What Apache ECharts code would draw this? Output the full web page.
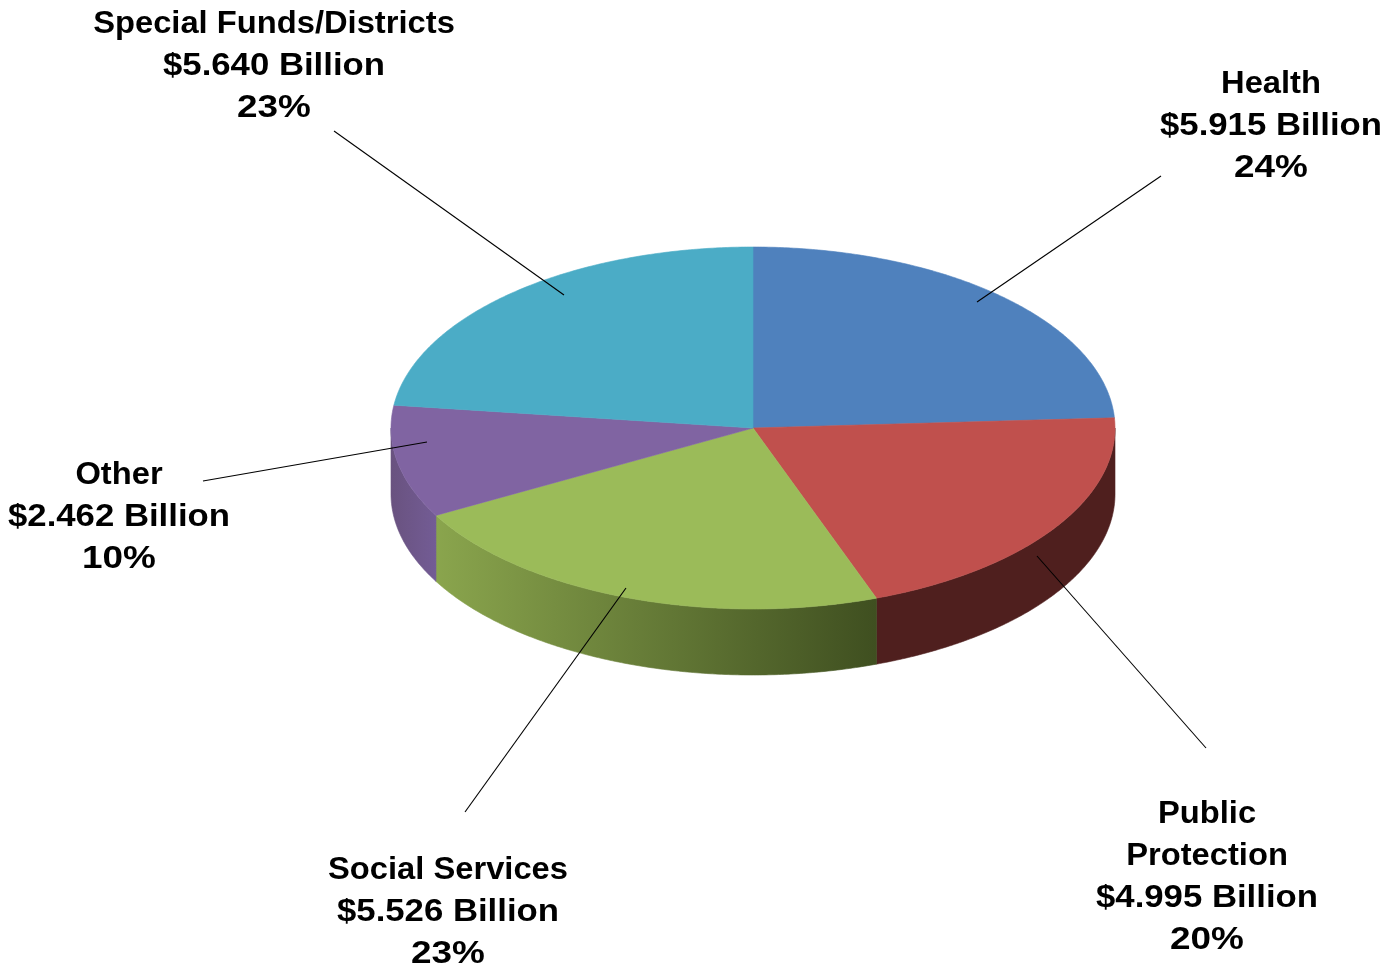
<!DOCTYPE html>
<html>
<head>
<meta charset="utf-8">
<style>html,body{margin:0;padding:0;background:#fff}#c{width:1400px;height:969px}</style>
<script src="https://cdn.jsdelivr.net/npm/echarts@6/dist/echarts.min.js"></script>
</head>
<body>
<div id="c"></div>
<script>
// Data (clockwise from 12 o'clock)
const categories = ['Health', 'Public\nProtection', 'Social Services', 'Other', 'Special Funds/Districts'];
const billions = [5.915, 4.995, 5.526, 2.462, 5.640];
const percents = [24, 20, 23, 10, 23];

// Styles
const topColors = ['#4f81bd', '#c0504d', '#9bbb59', '#8064a2', '#4bacc6'];
const wallStops = [
  ['#3a5f8c', '#3a5f8c'],
  ['#4f1f1e', '#4f1f1e'],
  ['#8aa54d', '#3f4f20'],
  ['#69527f', '#735c95'],
  ['#377f93', '#377f93']
];

// Layout
const pie = { cx: 753, cy: 428, rx: 362, ry: 181, depth: 66 };
const labelAt = [[1271, 125], [1207, 876], [448, 911], [119, 516], [274, 65]];
const lineGap = 42;
const widen = { name: 1.055, value: 1.12, percent: 1.19 };
const leaders = [
  [[1161, 176], [977, 302]],
  [[1206, 748], [1037, 556]],
  [[465, 812], [626, 588]],
  [[203, 481], [427, 442]],
  [[334, 131], [564, 295]]
];

const total = billions.reduce((a, b) => a + b, 0);
const rim = deg => {
  const t = deg * Math.PI / 180;
  return [pie.cx + pie.rx * Math.sin(t), pie.cy - pie.ry * Math.cos(t)];
};
const arc = (from, to) => {
  const pts = [];
  const n = Math.max(2, Math.ceil(Math.abs(to - from) * 2));
  for (let i = 0; i <= n; i++) pts.push(rim(from + (to - from) * i / n));
  return pts;
};

function renderSlice(params, api) {
  const i = params.dataIndex;
  let before = 0;
  for (let k = 0; k < i; k++) before += billions[k];
  const a0 = before / total * 360;
  const a1 = (before + api.value(0)) / total * 360;
  const children = [];

  // visible outer wall lies between 90 and 270 degrees
  const w0 = Math.max(a0, 90), w1 = Math.min(a1, 270);
  if (w1 > w0) {
    const upper = arc(w0, w1);
    const lower = upper.slice().reverse().map(p => [p[0], p[1] + pie.depth]);
    const grad = () => new echarts.graphic.LinearGradient(0, 0, 1, 0, [
      { offset: 0, color: wallStops[i][0] },
      { offset: 1, color: wallStops[i][1] }
    ]);
    children.push({
      type: 'polygon',
      shape: { points: upper.concat(lower) },
      style: { fill: grad(), stroke: grad(), lineWidth: 0.6 }
    });
  }
  // top face
  children.push({
    type: 'polygon',
    shape: { points: [[pie.cx, pie.cy]].concat(arc(a0, a1)) },
    style: { fill: topColors[i], stroke: topColors[i], lineWidth: 0.6 },
    z2: 2
  });
  // leader line
  children.push({
    type: 'line',
    shape: { x1: leaders[i][0][0], y1: leaders[i][0][1], x2: leaders[i][1][0], y2: leaders[i][1][1] },
    style: { stroke: '#000', lineWidth: 1.1, fill: null },
    z2: 5
  });
  // label lines
  const rows = categories[i].split('\n').map(t => [t, widen.name]);
  rows.push(['$' + api.value(0).toFixed(3) + ' Billion', widen.value]);
  rows.push([percents[i] + '%', widen.percent]);
  rows.forEach((r, k) => {
    children.push({
      type: 'text',
      x: labelAt[i][0],
      y: labelAt[i][1] + 1.5 + (k - (rows.length - 1) / 2) * lineGap,
      scaleX: r[1],
      style: {
        text: r[0],
        fill: '#000',
        font: 'bold 31px "Liberation Sans", Arial, sans-serif',
        align: 'center',
        verticalAlign: 'middle'
      },
      z2: 6
    });
  });
  return { type: 'group', children };
}

const chart = echarts.init(document.getElementById('c'), null, { renderer: 'canvas', width: 1400, height: 969 });
chart.setOption({
  animation: false,
  backgroundColor: '#fff',
  series: [{
    type: 'custom',
    coordinateSystem: 'none',
    silent: true,
    clip: false,
    renderItem: renderSlice,
    data: billions.map(v => [v])
  }]
});
</script>
</body>
</html>
